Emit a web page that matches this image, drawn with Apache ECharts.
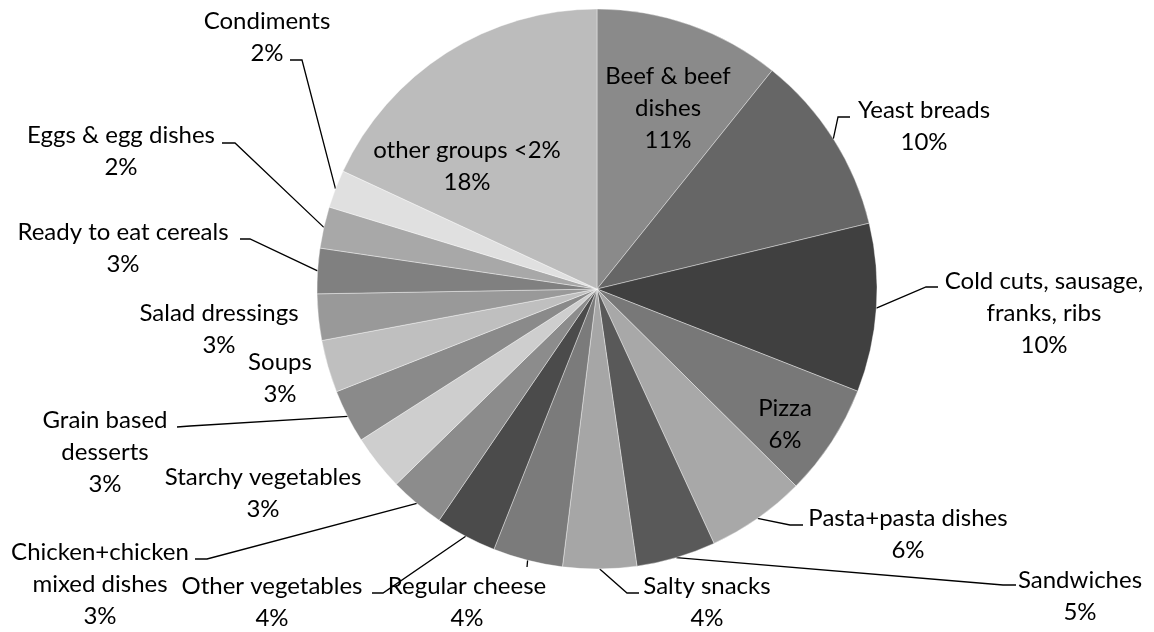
<!DOCTYPE html>
<html>
<head>
<meta charset="utf-8">
<script src="https://cdn.jsdelivr.net/npm/echarts@6/dist/echarts.min.js"></script>
<style>
  html, body { margin: 0; padding: 0; background: #ffffff; }
  #chart { width: 1154px; height: 632px; }
</style>
</head>
<body>
<div id="chart"></div>
<script>
// ---- Data ----
const categories = [
  'Beef & beef\ndishes',
  'Yeast breads',
  'Cold cuts, sausage,\nfranks, ribs',
  'Pizza',
  'Pasta+pasta dishes',
  'Sandwiches',
  'Salty snacks',
  'Regular cheese',
  'Other vegetables',
  'Chicken+chicken\nmixed dishes',
  'Starchy vegetables',
  'Grain based\ndesserts',
  'Soups',
  'Salad dressings',
  'Ready to eat cereals',
  'Eggs & egg dishes',
  'Condiments',
  'other groups <2%'
];
const values = [10.75, 10.47, 9.72, 6.47, 5.72, 4.58, 4.25, 4.03, 3.53, 3.19, 3.22, 3.08, 3.03, 2.67, 2.61, 2.39, 2.19, 18.08];

// ---- Styles / layout (not data) ----
const sliceColors = [
  '#8a8a8a', '#666666', '#404040', '#787878', '#a8a8a8', '#595959',
  '#a6a6a6', '#7b7b7b', '#4b4b4b', '#8c8c8c', '#cecece', '#8a8a8a',
  '#bfbfbf', '#999999', '#808080', '#a8a8a8', '#e0e0e0', '#bcbcbc'
];
// label block centres
const labelCenters = [
  [668, 108], [924, 126], [1044, 313], [785, 424], [908, 534], [1080, 596],
  [707, 602], [467, 602], [272, 602], [100, 584], [263, 493], [105, 452],
  [280, 378], [219, 329], [123, 248], [121, 151], [267, 37], [467, 166]
];
// leader line bend + end points (null = no leader line)
const leaderPts = [
  null,
  [[838, 117], [850, 117]],
  [[926, 287], [938, 287]],
  null,
  [[790, 525], [803, 525]],
  [[1003, 585], [1016, 585]],
  [[627, 593], [639, 593]],
  [[527, 567], [527, 567]],
  [[383, 593], [372, 593]],
  [[207, 559], [195, 559]],
  null,
  [[190, 426], [177, 427]],
  null,
  null,
  [[250, 239], [240, 239]],
  [[235, 143], [222, 143]],
  [[302, 60], [290, 60]],
  null
];

const pieData = categories.map((name, i) => ({
  name: name,
  value: values[i],
  itemStyle: { color: sliceColors[i] },
  labelLine: { show: !!leaderPts[i] }
}));

const chart = echarts.init(document.getElementById('chart'), null, { renderer: 'canvas' });
chart.setOption({
  backgroundColor: '#ffffff',
  animation: false,
  series: [{
    type: 'pie',
    center: [597, 289],
    radius: [0, 280],
    startAngle: 90,
    clockwise: true,
    avoidLabelOverlap: false,
    data: pieData,
    itemStyle: { borderColor: 'rgba(255,255,255,0.55)', borderWidth: 0.7 },
    label: {
      show: true,
      position: 'outside',
      formatter: p => p.name + '\n' + Math.round(p.percent) + '%',
      fontFamily: 'Lato',
      fontSize: 24,
      lineHeight: 32,
      color: '#000000',
      align: 'center'
    },
    labelLine: {
      show: true,
      length: 10,
      length2: 10,
      lineStyle: { color: '#000000', width: 1.3 }
    },
    labelLayout: function (params) {
      const i = params.dataIndex;
      const c = labelCenters[i];
      const res = { x: c[0], y: c[1], align: 'center', verticalAlign: 'middle' };
      if (leaderPts[i] && params.labelLinePoints) {
        res.labelLinePoints = [params.labelLinePoints[0], leaderPts[i][0], leaderPts[i][1]];
      }
      return res;
    }
  }]
});
</script>
</body>
</html>
